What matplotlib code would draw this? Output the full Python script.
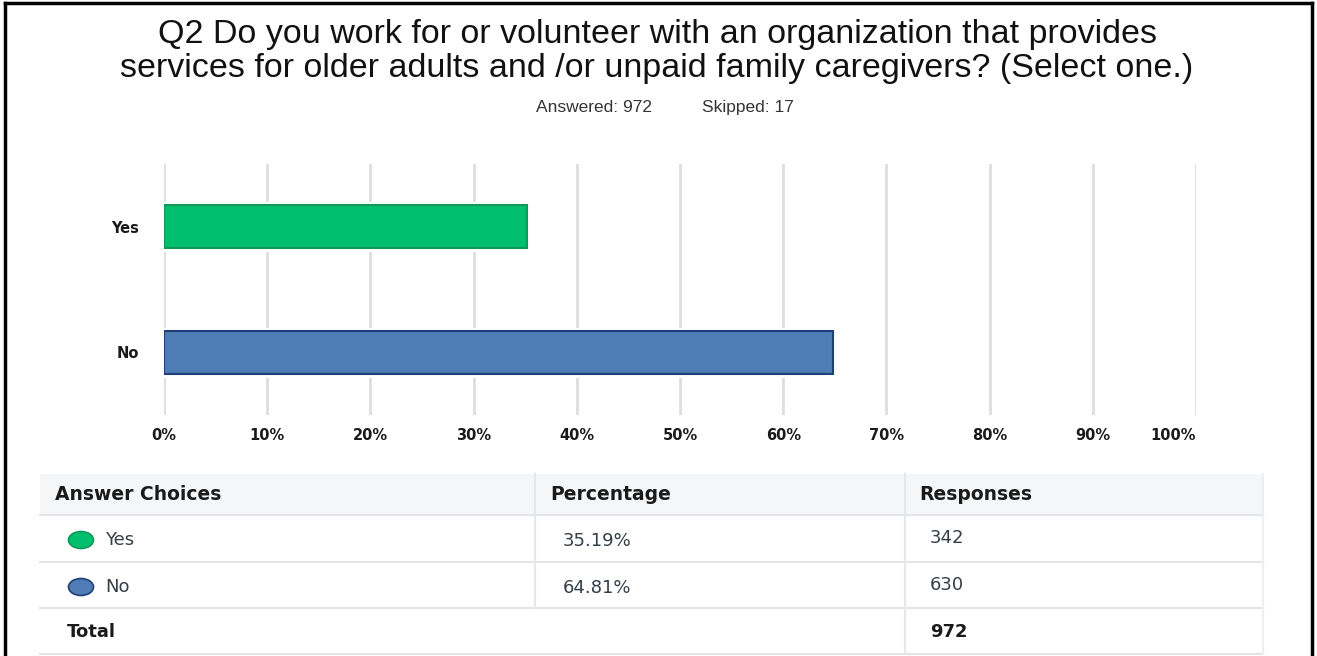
import matplotlib
matplotlib.use("Agg")
import matplotlib.pyplot as plt
from matplotlib.patches import Ellipse, Rectangle
from matplotlib.lines import Line2D

# Survey question and response data
title_lines = [
    "Q2 Do you work for or volunteer with an organization that provides",
    "services for older adults and /or unpaid family caregivers? (Select one.)",
]
answered = 972
skipped = 17
categories = ["Yes", "No"]
percentages = [35.19, 64.81]
responses = [342, 630]
total = 972
tick_values = [0, 10, 20, 30, 40, 50, 60, 70, 80, 90, 100]
tick_labels = ["0%", "10%", "20%", "30%", "40%", "50%", "60%", "70%", "80%", "90%", "100%"]
bar_colors = ["#00bf6f", "#507cb6"]
bar_edges = ["#0e9957", "#1e3f78"]

W, H = 1317, 656
fig = plt.figure(figsize=(W / 100, H / 100), dpi=100)
fig.patch.set_facecolor("white")


def fx(x):
    return x / W


def fy(y):
    return 1 - y / H


TEXT = "#333e48"
DARK = "#1a1a1a"

# Title block
fig.text(fx(657), fy(35), title_lines[0], ha="center", va="center",
         fontsize=24.5, family="Liberation Sans", color="#111111")
fig.text(fx(657), fy(68), title_lines[1], ha="center", va="center",
         fontsize=24.5, family="Liberation Sans", color="#111111")
fig.text(fx(594), fy(112), f"Answered: {answered}", ha="center", va="baseline",
         fontsize=12.5, family="Liberation Sans", color="#333333")
fig.text(fx(748), fy(112), f"Skipped: {skipped}", ha="center", va="baseline",
         fontsize=12.5, family="Liberation Sans", color="#333333")

# Bar chart
ax = fig.add_axes([fx(164), fy(415), fx(1196) - fx(164), (415 - 164) / H])
ypos = list(range(len(categories)))
ax.set_xlim(0, 100)
ax.set_ylim(len(categories) - 0.5, -0.5)
for v in tick_values:
    ax.axvline(v, color="#dedede", lw=2, zorder=0)
# white halo around bars interrupts the gridlines
ax.barh(ypos, percentages, height=0.34, color="white", edgecolor="white",
        linewidth=5, zorder=1)
ax.barh(ypos, percentages, height=0.34, color=bar_colors, edgecolor=bar_edges,
        linewidth=1.5, zorder=2)
for s in ax.spines.values():
    s.set_visible(False)
ax.set_xticks(tick_values)
ax.set_xticklabels(tick_labels)
ax.set_yticks(ypos)
ax.set_yticklabels(categories)
ax.tick_params(axis="both", length=0, labelsize=10.5, labelcolor=DARK)
ax.tick_params(axis="x", pad=9)
ax.tick_params(axis="y", pad=18)
for lab in ax.get_xticklabels() + ax.get_yticklabels():
    lab.set_fontweight("bold")
ax.get_xticklabels()[-1].set_ha("right")
ax.patch.set_alpha(0)

# Response table
x0, x1, x2, x3 = 40, 535, 905, 1263
rows_y = [474, 515, 562, 608, 654]
fig.patches.append(Rectangle((fx(x0), fy(rows_y[1])), fx(x3) - fx(x0),
                             (rows_y[1] - rows_y[0]) / H, transform=fig.transFigure,
                             facecolor="#f5f6f7", edgecolor="none", zorder=0))
for y in rows_y[1:]:
    fig.add_artist(Line2D([fx(x0), fx(x3)], [fy(y), fy(y)], color="#e3e4e6", lw=1.5))
fig.add_artist(Line2D([fx(x1), fx(x1)], [fy(rows_y[0]), fy(rows_y[3])], color="#e6e7e9", lw=1.5))
fig.add_artist(Line2D([fx(x2), fx(x2)], [fy(rows_y[0]), fy(rows_y[4])], color="#e6e7e9", lw=1.5))
fig.add_artist(Line2D([fx(x3), fx(x3)], [fy(rows_y[0]), fy(rows_y[4])], color="#eeeff0", lw=1.5))

hdr_kw = dict(va="center", fontsize=13.5, fontweight="bold", color=DARK)
fig.text(fx(55), fy(494), "Answer Choices", **hdr_kw)
fig.text(fx(550), fy(494), "Percentage", **hdr_kw)
fig.text(fx(919), fy(494), "Responses", **hdr_kw)

row_centers = [540, 587]
for cat, pct, n, col, edge, yc in zip(categories, percentages, responses,
                                       bar_colors, bar_edges, row_centers):
    fig.patches.append(Ellipse((fx(81), fy(yc)), 25 / W, 17 / H,
                               transform=fig.transFigure, facecolor=col,
                               edgecolor=edge, lw=1.2))
    fig.text(fx(105), fy(yc), cat, va="center", fontsize=13, color=TEXT)
    fig.text(fx(563), fy(yc + 1), f"{pct:.2f}%", va="center", fontsize=13, color=TEXT)
    fig.text(fx(930), fy(yc - 2), f"{n}", va="center", fontsize=13, color=TEXT)

fig.text(fx(67), fy(632), "Total", va="center", fontsize=13, fontweight="bold", color=DARK)
fig.text(fx(930), fy(632), f"{total}", va="center", fontsize=13, fontweight="bold", color=DARK)

# Outer frame (top, left, right)
for (xa, ya, xb, yb) in [(5, 3, 1312, 3), (5, 3, 5, 656), (1312, 3, 1312, 656)]:
    fig.add_artist(Line2D([fx(xa), fx(xb)], [fy(ya), fy(yb)], color="black", lw=2.5))

fig.savefig("out.png", dpi=100, facecolor="white")
